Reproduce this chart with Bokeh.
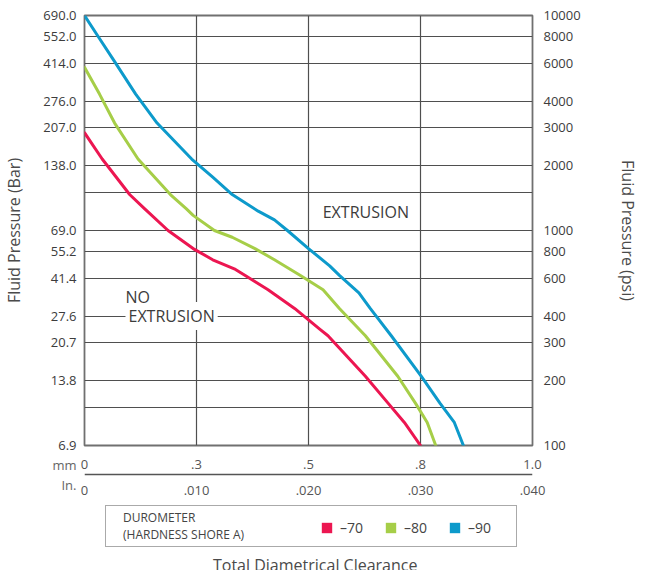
from bokeh.plotting import figure
from bokeh.layouts import column
from bokeh.models import (Range1d, LogAxis, LinearAxis, FixedTicker, Legend,
                          LegendItem, Label, Grid)
from bokeh.embed import file_html
from bokeh.resources import INLINE

# ---------------- data ----------------
x_ticks_in = [0.0, 0.010, 0.020, 0.030, 0.040]
x_labels_mm = ["0", ".3", ".5", ".8", "1.0"]
x_labels_in = ["0", ".010", ".020", ".030", ".040"]

psi_ticks = [100, 150, 200, 300, 400, 600, 800, 1000, 1500, 2000, 3000, 4000, 6000, 8000, 10000]
psi_labels = ["100", "", "200", "300", "400", "600", "800", "1000", "", "2000",
              "3000", "4000", "6000", "8000", "10000"]
bar_labels = ["6.9", "", "13.8", "20.7", "27.6", "41.4", "55.2", "69.0", "", "138.0",
              "207.0", "276.0", "414.0", "552.0", "690.0"]

unit_rows = ["In.", "mm"]

durometer = ["\u201370", "\u201380", "\u201390"]
colors = ["#EC1651", "#A6CE48", "#0D9ACB"]

clear_70 = [0.0, 0.00158, 0.00403, 0.00538, 0.00746, 0.0097, 0.01145, 0.01348, 0.01435,
            0.01639, 0.01876, 0.0210, 0.02174, 0.02508, 0.02712, 0.02856, 0.0300]
psi_70 = [2850, 2150, 1470, 1260, 1000, 824, 731, 659, 618,
          530, 434, 348, 324, 210, 157, 128, 100]

clear_80 = [0.0, 0.00134, 0.00269, 0.00478, 0.00767, 0.0091, 0.0097, 0.0116, 0.01319,
            0.01522, 0.01696, 0.01928, 0.0213, 0.02276, 0.02508, 0.02797, 0.02956,
            0.0306, 0.03136]
psi_80 = [5740, 4310, 3160, 2150, 1470, 1260, 1176, 1000, 930,
          824, 731, 618, 530, 434, 324, 210, 157,
          128, 100]

clear_90 = [0.0, 0.00119, 0.00269, 0.00457, 0.00648, 0.00957, 0.01145, 0.01319, 0.01551,
            0.01696, 0.01812, 0.0200, 0.02189, 0.02276, 0.02450, 0.02551, 0.02739,
            0.03006, 0.03175, 0.03302, 0.03383]
psi_90 = [10000, 8030, 6100, 4310, 3160, 2150, 1770, 1470, 1230,
          1120, 1000, 824, 685, 618, 513, 434, 324,
          210, 157, 128, 100]

series_x = [clear_70, clear_80, clear_90]
series_y = [psi_70, psi_80, psi_90]

FONT = "Open Sans"
TXT = "#3c3c3c"
GRID = "#4f4f4f"
W = 641
LEFT_B, RIGHT_B = 84, 105

xt = FixedTicker(ticks=x_ticks_in)
yt = FixedTicker(ticks=psi_ticks)


def style_axis(ax, size="13px", color=TXT):
    ax.axis_line_color = None
    ax.major_tick_line_color = None
    ax.minor_tick_line_color = None
    ax.major_tick_out = 0
    ax.major_tick_in = 0
    ax.minor_tick_out = 0
    ax.minor_tick_in = 0
    ax.major_label_text_font = FONT
    ax.major_label_text_font_size = size
    ax.major_label_text_color = color
    ax.axis_label_text_font = FONT
    ax.axis_label_text_font_style = "normal"
    ax.axis_label_text_color = "#4a4a4a"


# ================= main chart =================
p = figure(width=W, height=450,
           x_range=Range1d(0, 0.040), y_range=Range1d(100, 10000),
           y_axis_type="log", x_axis_location=None,
           output_backend="svg", toolbar_location=None,
           min_border_left=LEFT_B, min_border_right=RIGHT_B, min_border_top=15,
           min_border_bottom=5, background_fill_color="white",
           border_fill_color="white")
p.outline_line_color = "#707070"
p.outline_line_width = 1.8

left = p.yaxis[0]
left.ticker = yt
left.major_label_overrides = dict(zip(psi_ticks, bar_labels))
style_axis(left)
left.major_label_standoff = 8
left.axis_label = "Fluid Pressure (Bar)"
left.axis_label_text_font_size = "16px"
left.axis_label_standoff = 15

right = LogAxis(ticker=yt, major_label_overrides=dict(zip(psi_ticks, psi_labels)))
style_axis(right)
right.major_label_standoff = 11
right.axis_label = "Fluid Pressure (psi)"
right.axis_label_text_font_size = "16px"
right.axis_label_standoff = 33
p.add_layout(right, "right")

p.xgrid.visible = False
p.ygrid.ticker = yt
p.ygrid.grid_line_color = GRID
p.ygrid.grid_line_width = 1.2
p.ygrid.minor_grid_line_color = None
p.add_layout(Grid(dimension=0, ticker=xt, grid_line_color=GRID, grid_line_width=1.2))

for xs, ys, c in zip(series_x, series_y, colors):
    p.line(xs, ys, line_color=c, line_width=3, line_join="round", line_cap="round")

p.add_layout(Label(x=0.02127, y=1225, text="EXTRUSION", text_font=FONT,
                   text_font_size="16px", text_color=TXT, text_baseline="middle"))
p.add_layout(Label(x=0.00366, y=400, text="EXTRUSION", text_font=FONT,
                   text_font_size="16px", text_color=TXT, text_baseline="middle",
                   background_fill_color="white", padding=3))
p.add_layout(Label(x=0.00366, y=490, text="NO", text_font=FONT,
                   text_font_size="16px", text_color=TXT, text_baseline="middle"))

# ================= clearance scales (mm / in.) =================
pb = figure(width=W, height=53,
            x_range=p.x_range, y_range=Range1d(0, 1),
            x_axis_location=None, y_axis_location=None,
            output_backend="svg", toolbar_location=None,
            min_border_left=LEFT_B, min_border_right=RIGHT_B,
            min_border_top=14, min_border_bottom=19,
            background_fill_color="white", border_fill_color="white")
pb.outline_line_color = None
pb.xgrid.visible = False
pb.ygrid.visible = False
pb.add_layout(Grid(dimension=1, ticker=FixedTicker(ticks=[0.5]),
                   grid_line_color="#555555", grid_line_width=1.5))

mm_axis = LinearAxis(ticker=xt, major_label_overrides=dict(zip(x_ticks_in, x_labels_mm)))
style_axis(mm_axis, color="#555555")
mm_axis.major_label_standoff = -4
pb.add_layout(mm_axis, "above")

in_axis = LinearAxis(ticker=xt, major_label_overrides=dict(zip(x_ticks_in, x_labels_in)))
style_axis(in_axis, color="#555555")
in_axis.major_label_standoff = 1
pb.add_layout(in_axis, "below")

unit_axis = LinearAxis(ticker=FixedTicker(ticks=[0, 1]),
                       major_label_overrides=dict(zip([0, 1], unit_rows)))
style_axis(unit_axis, color="#666666")
unit_axis.major_label_standoff = 8
pb.add_layout(unit_axis, "left")

# ================= legend + x title =================
pl = figure(width=W, height=67,
            x_range=p.x_range, y_range=Range1d(0, 1),
            x_axis_location=None, y_axis_location=None,
            output_backend="svg", toolbar_location=None,
            min_border_left=LEFT_B, min_border_right=RIGHT_B,
            min_border_top=0, min_border_bottom=0,
            background_fill_color="white", border_fill_color="white")
pl.outline_line_color = None
pl.xgrid.visible = False
pl.ygrid.visible = False

# legend swatches: the same series, kept hidden (they only lend their style to the key)
blank = pl.quad(left=[], right=[], top=[], bottom=[], fill_alpha=0, line_alpha=0)
swatches = [pl.quad(left=xs, right=xs, top=ys, bottom=ys, fill_color=c, line_color=None,
                    visible=False)
            for xs, ys, c in zip(series_x, series_y, colors)]

box = Legend(items=[LegendItem(label="DUROMETER\n(HARDNESS SHORE A)", renderers=[blank])],
             location=(21, 23), orientation="horizontal",
             padding=3, glyph_width=12, glyph_height=13, label_standoff=2,
             label_width=390, label_height=28,
             label_text_font=FONT, label_text_font_size="12px", label_text_color="#444444",
             border_line_color="#555555", border_line_width=1.5,
             background_fill_color="white", background_fill_alpha=1.0)
pl.add_layout(box)

items = Legend(items=[LegendItem(label=d, renderers=[r]) for d, r in zip(durometer, swatches)],
               location=(236, 33), orientation="horizontal",
               padding=0, spacing=20, glyph_width=13, glyph_height=13,
               label_standoff=7, label_width=24, label_height=18,
               label_text_font=FONT, label_text_font_size="14px", label_text_color="#444444",
               border_line_alpha=0, background_fill_alpha=0,
               inactive_fill_alpha=0)
pl.add_layout(items)

pl.add_layout(Label(x=0.0206, y=0.075, text="Total Diametrical Clearance",
                    text_font=FONT, text_font_size="16px", text_color="#4a4a4a",
                    text_align="center", text_baseline="alphabetic"))

layout = column(p, pb, pl, spacing=0)
open("out.html", "w").write(file_html(layout, INLINE))
